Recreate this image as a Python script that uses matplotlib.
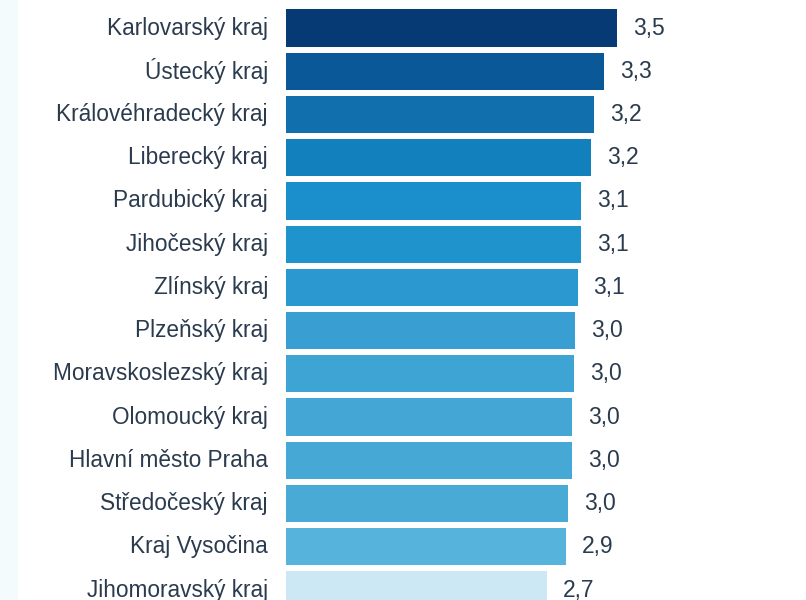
import matplotlib
matplotlib.use("Agg")
import matplotlib.pyplot as plt
from matplotlib.patches import Rectangle

plt.rcParams['font.family'] = ['Liberation Sans', 'DejaVu Sans']

# Kraje a hodnoty
kraje = ["Karlovarský kraj", "Ústecký kraj", "Královéhradecký kraj", "Liberecký kraj",
         "Pardubický kraj", "Jihočeský kraj", "Zlínský kraj", "Plzeňský kraj",
         "Moravskoslezský kraj", "Olomoucký kraj", "Hlavní město Praha",
         "Středočeský kraj", "Kraj Vysočina", "Jihomoravský kraj"]
hodnoty = [3.47, 3.34, 3.23, 3.20, 3.10, 3.10, 3.06, 3.03, 3.02, 3.00, 3.00, 2.96, 2.94, 2.74]
barvy = ["#063a74", "#0a5897", "#116fad", "#1380be", "#1a8fcb", "#1e93cc", "#2c98d0",
         "#399fd2", "#3ea4d4", "#43a6d4", "#46a8d5", "#4aaad6", "#56b3db", "#cce8f4"]

text_col = "#2b3b4e"

fig = plt.figure(figsize=(8.06, 6), dpi=100)
fig.patch.set_facecolor("white")
# světlý pruh vlevo
fig.patches.append(Rectangle((0, 0), 18 / 806, 1, transform=fig.transFigure,
                             facecolor="#f4fbfc", edgecolor="none", zorder=0))

ax = fig.add_axes([286 / 806, 0, 520 / 806, 1])
ax.set_facecolor("none")

pos = list(range(len(kraje)))
ax.barh(pos, hodnoty, height=0.86, color=barvy)

for p, v in zip(pos, hodnoty):
    ax.annotate(f"{v:.1f}".replace(".", ","), (v, p), xytext=(11.5, 0),
                textcoords="offset points", ha="left", va="center",
                fontsize=16.5, color=text_col)

ax.set_xlim(0, 520 / 95.3)
ax.set_ylim(-0.648 + 600 / 43.23, -0.648)
ax.set_yticks(pos)
ax.set_yticklabels(kraje, fontsize=16.3, color=text_col, va="center")
ax.tick_params(axis="y", length=0, pad=13)
ax.set_xticks([])
for s in ax.spines.values():
    s.set_visible(False)

fig.savefig("out.png", dpi=100)
